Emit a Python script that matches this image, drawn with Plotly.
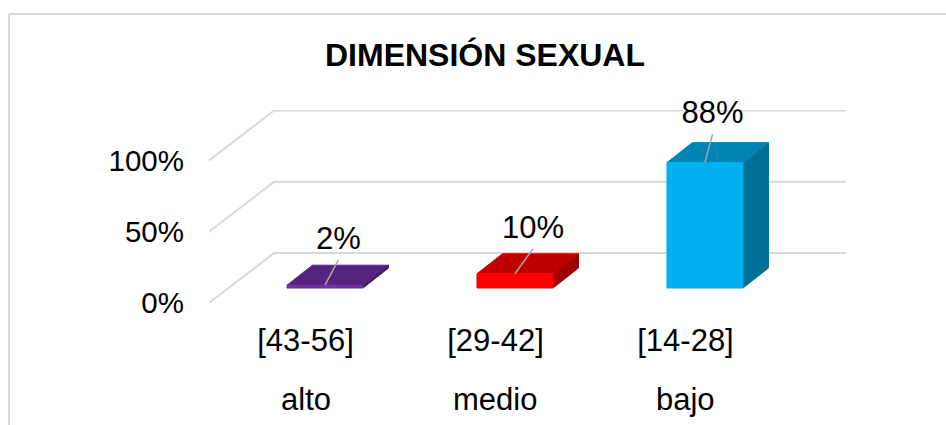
import plotly.graph_objects as go

# Data
ranges = ["[43-56]", "[29-42]", "[14-28]"]
levels = ["alto", "medio", "bajo"]
values = [2, 10, 88]
y_ticks = [0, 50, 100]

# Colours: front, top, side
front_colors = ["#7030A0", "#FF0000", "#00B0F0"]
top_colors = ["#54247D", "#BF0000", "#0084B4"]
side_colors = ["#43195F", "#A00000", "#006F98"]

# Style of the mock 3D frame (axis units)
X_MIN, X_MAX = -0.508, 2.845
Y_MAX = 135.4
WALL_DX, WALL_DY = 0.342, 35
BAR_OFF_DX, BAR_OFF_DY = 0.1026, 10.5
BAR_DX, BAR_DY = 0.134, 14
HALF = 0.2
LEADER_DX = [0.07, 0.095, 0.04]
LEADER_LIFT = [17.7, 17.6, 20]
LABEL_LIFT = 13
FONT = "Liberation Sans, Arial, sans-serif"
W, H = 946, 425
L, R, T, B = 209, 100, 110, 122
GRID = "#D9D9D9"

fig = go.Figure()


def poly(xs, ys, color):
    fig.add_trace(go.Scatter(x=xs, y=ys, mode="lines", fill="toself", fillcolor=color,
                             line=dict(color=color, width=1), hoverinfo="skip", showlegend=False))


for v in y_ticks:
    fig.add_trace(go.Scatter(x=[X_MIN, X_MIN + WALL_DX, X_MAX],
                             y=[v, v + WALL_DY, v + WALL_DY],
                             mode="lines", line=dict(color=GRID, width=2),
                             hoverinfo="skip", showlegend=False))

for i, v in enumerate(values):
    x0 = i + BAR_OFF_DX - HALF
    x1 = i + BAR_OFF_DX + HALF
    y0 = BAR_OFF_DY
    y1 = BAR_OFF_DY + v
    poly([x1, x1 + BAR_DX, x1 + BAR_DX, x1, x1], [y0, y0 + BAR_DY, y1 + BAR_DY, y1, y0], side_colors[i])
    poly([x0, x1, x1 + BAR_DX, x0 + BAR_DX, x0], [y1, y1, y1 + BAR_DY, y1 + BAR_DY, y1], top_colors[i])
    poly([x0, x1, x1, x0, x0], [y0, y0, y1, y1, y0], front_colors[i])
    xc = i + BAR_OFF_DX
    fig.add_trace(go.Scatter(x=[xc, xc + LEADER_DX[i]], y=[y1, y1 + LEADER_LIFT[i]], mode="lines",
                             line=dict(color="#A6A6A6", width=1.5), hoverinfo="skip", showlegend=False))
    fig.add_trace(go.Scatter(x=[xc + LEADER_DX[i]], y=[y1 + LEADER_LIFT[i] + LABEL_LIFT], mode="text",
                             text=[f"{v}%"], textposition="middle center", cliponaxis=False,
                             textfont=dict(family=FONT, size=31, color="black"),
                             hoverinfo="skip", showlegend=False))

pw, ph = W - L - R, H - T - B
px = lambda p: (p - L) / pw
py = lambda p: (H - B - p) / ph

shapes = [
    dict(type="line", xref="paper", yref="paper", x0=px(9), x1=px(946), y0=py(14), y1=py(14),
         line=dict(color=GRID, width=2), layer="below"),
    dict(type="line", xref="paper", yref="paper", x0=px(9), x1=px(9), y0=py(14), y1=py(425),
         line=dict(color=GRID, width=2), layer="below"),
]

annotations = [dict(x=i, y=py(399), xref="x", yref="paper", text=t, showarrow=False,
                    xanchor="center", yanchor="middle",
                    font=dict(family=FONT, size=31, color="black"))
               for i, t in enumerate(levels)]

fig.update_layout(
    width=W, height=H,
    margin=dict(l=L, r=R, t=T, b=B, autoexpand=False),
    paper_bgcolor="white", plot_bgcolor="white",
    showlegend=False,
    title=dict(text="<b>DIMENSIÓN SEXUAL</b>", x=485 / W, y=1 - 55 / H, xanchor="center", yanchor="middle",
               xref="container", yref="container",
               font=dict(family=FONT, size=32, color="black")),
    shapes=shapes, annotations=annotations,
    xaxis=dict(range=[X_MIN, X_MAX], tickmode="array", tickvals=list(range(len(ranges))), ticktext=ranges,
               showgrid=False, zeroline=False, showline=False, ticks="", ticklabelstandoff=16,
               tickfont=dict(family=FONT, size=31, color="black")),
    yaxis=dict(range=[0, Y_MAX], tickmode="array", tickvals=y_ticks, ticktext=[f"{v}%" for v in y_ticks],
               showgrid=False, zeroline=False, showline=False, ticks="", ticklabelstandoff=24,
               tickfont=dict(family=FONT, size=29.5, color="black")),
)

fig.write_html("out.html", config={"displayModeBar": False},
               post_script="document.body.style.margin='0';document.documentElement.style.overflow='hidden';")
